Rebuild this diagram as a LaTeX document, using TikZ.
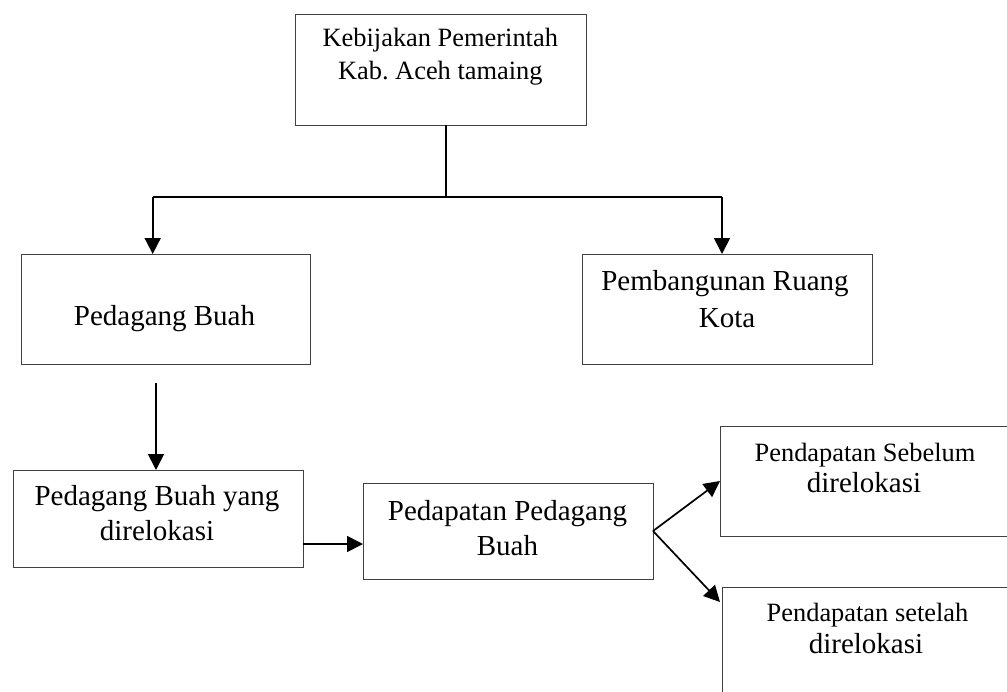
\documentclass[tikz,border=0pt]{standalone}
\usepackage{fontspec}
\setmainfont{Liberation Serif}
\usetikzlibrary{arrows.meta}
\newcommand\szA{\fontsize{26.4}{30}\selectfont}
\newcommand\szB{\fontsize{29}{33}\selectfont}
\tikzset{
  box/.style={draw=black!75, line width=1pt, inner sep=0pt, outer sep=0pt},
  conn/.style={draw=black, line width=1.7pt},
  arr/.style={conn, -{Triangle[length=16pt,width=16pt]}},
  txt/.style={anchor=base, inner sep=0pt, text=black},
}
\begin{document}
\begin{tikzpicture}[x=1pt,y=-1pt]
\useasboundingbox (0,0) rectangle (1007,691);
\clip (0,0) rectangle (1007,691);
\fill[white] (0,0) rectangle (1007,691);
% boxes
\node[box, minimum width=291pt, minimum height=111pt] (top) at (440.5,69.5) {};
\node[box, minimum width=289pt, minimum height=110pt] (pb)  at (165.5,309) {};
\node[box, minimum width=290pt, minimum height=110pt] (prk) at (727,309) {};
\node[box, minimum width=290pt, minimum height=97pt]  (pbr) at (158,518.5) {};
\node[box, minimum width=290pt, minimum height=96pt]  (ppb) at (508,531) {};
\node[box, minimum width=290pt, minimum height=110pt] (pbs) at (865,481) {};
\node[box, minimum width=291pt, minimum height=113pt] (pst) at (867.5,643.5) {};
% texts
\node[txt] (t1a) at (440.3,46.7) {\szA Kebijakan Pemerintah};
\node[txt] (t1b) at (440.3,79.3) {\szA Kab.\ Aceh tamaing};
\node[txt] (t2a) at (164.5,325.3) {\szB Pedagang Buah};
\node[txt] (t3a) at (725,290) {\szB Pembangunan Ruang};
\node[txt] (t3b) at (727,327) {\szB Kota};
\node[txt] (t4a) at (157,505) {\szB Pedagang Buah yang};
\node[txt] (t4b) at (157,540) {\szB direlokasi};
\node[txt] (t5a) at (507.5,520) {\szB Pedapatan Pedagang};
\node[txt] (t5b) at (507.5,555.5) {\szB Buah};
\node[txt] (t6a) at (865,461) {\szA Pendapatan Sebelum};
\node[txt] (t6b) at (864,492) {\szB direlokasi};
\node[txt] (t7a) at (867.5,621) {\szA Pendapatan setelah};
\node[txt] (t7b) at (866,653) {\szB direlokasi};
% connectors
\coordinate (j)  at (445.7,197);
\coordinate (jl) at (152.7,197);
\coordinate (jr) at (722,197);
\draw[conn] (top.south -| j) -- (j);
\draw[conn] (jl) -- (jr);
\draw[arr] (jl) -- (jl |- pb.north);
\draw[arr] (jr) -- (jr |- prk.north);
\coordinate (a1) at (156,383);
\draw[arr] (a1) -- (a1 |- pbr.north);
\coordinate (h) at (0,544);
\draw[arr] (pbr.east |- h) -- (ppb.west |- h);
\draw[arr] (ppb.east) -- (pbs.west);
\coordinate (t2) at (720,602);
\draw[arr] (ppb.east) -- (t2);
\end{tikzpicture}
\end{document}
